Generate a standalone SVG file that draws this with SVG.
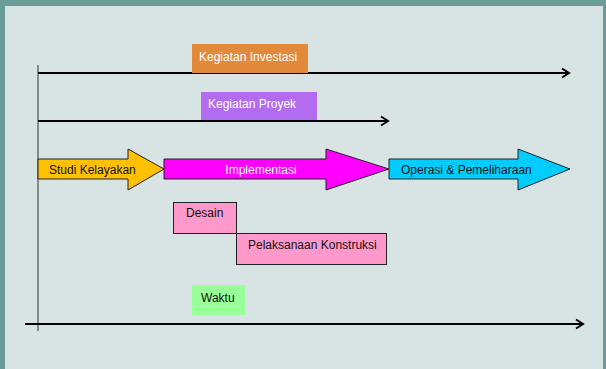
<svg xmlns="http://www.w3.org/2000/svg" width="606" height="369" viewBox="0 0 606 369">
<style>
.lbl{font-family:"Liberation Sans",Arial,sans-serif;font-size:12px}
.w{fill:#ffffff}
.k{fill:#111111}
.ln{stroke:#000;stroke-width:2;fill:none}
.shape{stroke:#222;stroke-width:1}
</style>
<defs>
<marker id="chev" markerWidth="12" markerHeight="12" refX="9" refY="6" orient="auto" markerUnits="userSpaceOnUse">
<polyline points="2,1.5 9,6 2,10.5" fill="none" stroke="#000" stroke-width="2"/>
</marker>
</defs>
<rect x="0" y="0" width="606" height="369" fill="#6a9c98"/>
<rect x="5" y="6" width="598" height="363" fill="#d8e4e4"/>
<g id="connectors">
<line x1="38" y1="65" x2="38" y2="331" stroke="#333" stroke-width="1"/>
<line class="ln" x1="38" y1="73" x2="569" y2="73" marker-end="url(#chev)"/>
<line class="ln" x1="38" y1="121" x2="388" y2="121" marker-end="url(#chev)"/>
<line class="ln" x1="25" y1="324" x2="583" y2="324" marker-end="url(#chev)"/>
</g>
<g id="kegiatan-investasi">
<rect x="192" y="44" width="116" height="29" fill="#e08a3a"/>
<text class="lbl w" x="199" y="61">Kegiatan Investasi</text>
</g>
<g id="kegiatan-proyek">
<rect x="201" y="92" width="116" height="28" fill="#b36cf0"/>
<text class="lbl w" x="208" y="108">Kegiatan Proyek</text>
</g>
<g id="studi-kelayakan">
<polygon class="shape" points="38,159 128,159 128,149 164,169 128,190 128,179 38,179" fill="#ffc000"/>
<text class="lbl k" x="49" y="174">Studi Kelayakan</text>
</g>
<g id="implementasi">
<polygon class="shape" points="164,159 326,159 326,149 389,169 326,190 326,179 164,179" fill="#ff00ff"/>
<text class="lbl w" x="261" y="174" text-anchor="middle">Implementasi</text>
</g>
<g id="operasi">
<polygon class="shape" points="389,159 518,159 518,149 570,169 518,190 518,179 389,179" fill="#00ccff"/>
<text class="lbl k" x="401" y="174">Operasi &amp; Pemeliharaan</text>
</g>
<g id="desain">
<rect class="shape" x="173.5" y="202.5" width="63" height="31" fill="#ff99cc"/>
<text class="lbl k" x="186" y="217">Desain</text>
</g>
<g id="pelaksanaan">
<rect class="shape" x="236.5" y="233.5" width="150" height="31" fill="#ff99cc"/>
<text class="lbl k" x="248" y="249">Pelaksanaan Konstruksi</text>
</g>
<g id="waktu">
<rect x="192" y="285" width="53" height="30" fill="#99ff99"/>
<text class="lbl k" x="201" y="302">Waktu</text>
</g>
</svg>
